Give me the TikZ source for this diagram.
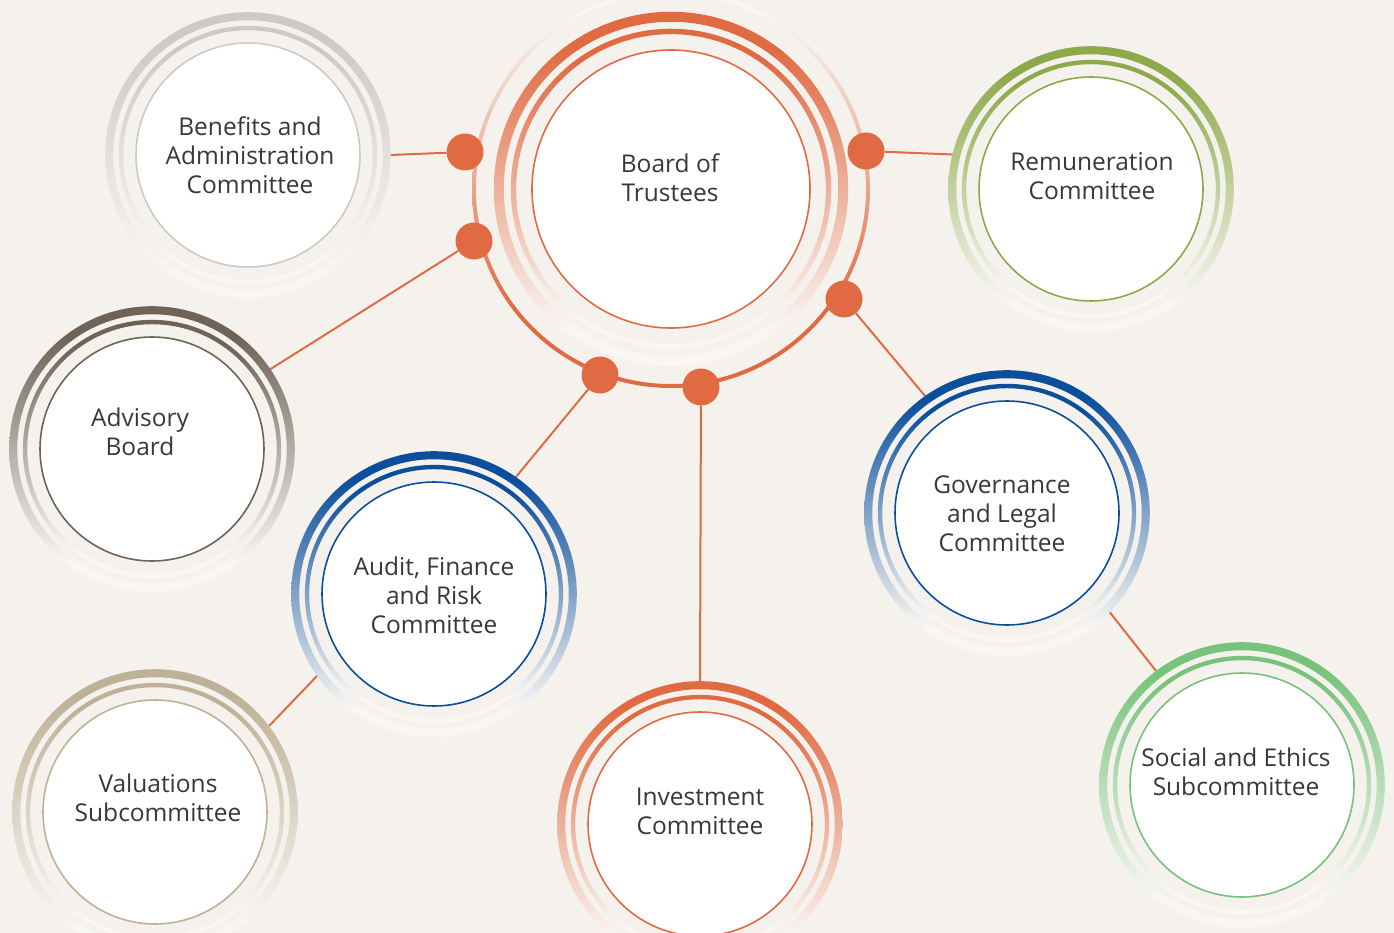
\documentclass[tikz,border=0pt]{standalone}
\usepackage{fontspec}
\setmainfont{Open Sans}
\usetikzlibrary{calc}
\definecolor{bgc}{HTML}{F5F2ED}
\definecolor{orangec}{HTML}{E06B43}
\definecolor{bluec}{HTML}{0B4E9B}
\definecolor{greenc}{HTML}{8DAA4B}
\definecolor{lgreenc}{HTML}{78C27B}
\definecolor{brownc}{HTML}{6E6356}
\definecolor{tanc}{HTML}{BFB197}
\definecolor{greyc}{HTML}{CCCAC8}
\definecolor{textc}{HTML}{383838}
\colorlet{fadec}{bgc!65!white}
\colorlet{ringc}{black}
\pgfdeclareverticalshading[ringc,fadec]{ringfade}{100bp}{color(0bp)=(fadec); color(30bp)=(fadec); color(70bp)=(ringc); color(100bp)=(ringc)}
\pgfdeclareverticalshading[ringc,fadec]{ringrise}{100bp}{color(0bp)=(ringc); color(35bp)=(ringc); color(72bp)=(fadec); color(100bp)=(fadec)}
\pgfdeclarelayer{back}
\pgfdeclarelayer{front}
\pgfsetlayers{back,main,front}
\newcommand\ringset[3]{% node name, inner radius, colour
  \colorlet{ringc}{#3}%
  \shade[shading=ringfade, even odd rule] (#1.center) circle[radius=1.275*#2] circle[radius=1.203*#2];
  \shade[shading=ringfade, even odd rule] (#1.center) circle[radius=1.153*#2] circle[radius=1.114*#2];
  \draw[draw=#3, fill=white, line width=1.6] (#1.center) circle[radius=#2];
}
\tikzset{
  hub/.style={circle, inner sep=0pt, minimum size=2*1.272*#1},
  dotnode/.style={circle, fill=orangec, inner sep=0pt, minimum size=37},
  conn/.style={draw=orangec, line width=2},
  label/.style={text=textc, align=center, font=\fontsize{24.5}{29}\selectfont, inner sep=0pt}
}
\begin{document}
\begin{tikzpicture}[x=1pt,y=-1pt]
\begin{pgfonlayer}{back}
\fill[bgc] (0,0) rectangle (1394,933);
\end{pgfonlayer}
\useasboundingbox (0,0) rectangle (1394,933);
% circle nodes
\node[hub=139] (board) at (671,189) {};
\node[hub=112] (ben) at (248,155) {};
\node[hub=112] (rem) at (1091,189) {};
\node[hub=112] (adv) at (152,449) {};
\node[hub=112] (aud) at (434,594) {};
\node[hub=112] (gov) at (1007,513) {};
\node[hub=112] (inv) at (700,824) {};
\node[hub=112] (val) at (155,812) {};
\node[hub=112] (soc) at (1242,785) {};
% dots
\begin{pgfonlayer}{front}
\node[dotnode] (d1) at (465,152) {};
\node[dotnode] (d2) at (474,241) {};
\node[dotnode] (d3) at (866,151) {};
\node[dotnode] (d4) at (844,299) {};
\node[dotnode] (d5) at (600,375) {};
\node[dotnode] (d6) at (701,387) {};
\end{pgfonlayer}
% board connecting ring
\colorlet{ringc}{orangec}
\shade[shading=ringrise, even odd rule] (board.center) circle[radius=199] circle[radius=195];
% connectors
\draw[conn] (d1) -- (ben.0);
\draw[conn] (d2) -- (adv.34);
\draw[conn] (d3) -- (rem.166);
\draw[conn] (d4) -- (gov.125);
\draw[conn] (d5) -- (aud.55);
\draw[conn] (d6) -- (inv.90);
\draw[conn] (gov.316) -- (soc.127);
\draw[conn] (aud.215) -- (val.37);
% rings
\ringset{board}{139}{orangec}
\ringset{ben}{112}{greyc}
\ringset{rem}{112}{greenc}
\ringset{adv}{112}{brownc}
\ringset{aud}{112}{bluec}
\ringset{gov}{112}{bluec}
\ringset{inv}{112}{orangec}
\ringset{val}{112}{tanc}
\ringset{soc}{112}{lgreenc}
% labels
\node[label] (tboard) at (670,178) {Board of\\Trustees};
\node[label] (tben) at (250,155) {Benefits and\\Administration\\Committee};
\node[label] (trem) at (1092,176) {Remuneration\\Committee};
\node[label] (tadv) at (140,432) {Advisory\\Board};
\node[label] (taud) at (434,595) {Audit, Finance\\and Risk\\Committee};
\node[label] (tgov) at (1002,514) {Governance\\and Legal\\Committee};
\node[label] (tinv) at (700,811) {Investment\\Committee};
\node[label] (tval) at (158,798) {Valuations\\Subcommittee};
\node[label] (tsoc) at (1236,772) {Social and Ethics\\Subcommittee};
\end{tikzpicture}
\end{document}
